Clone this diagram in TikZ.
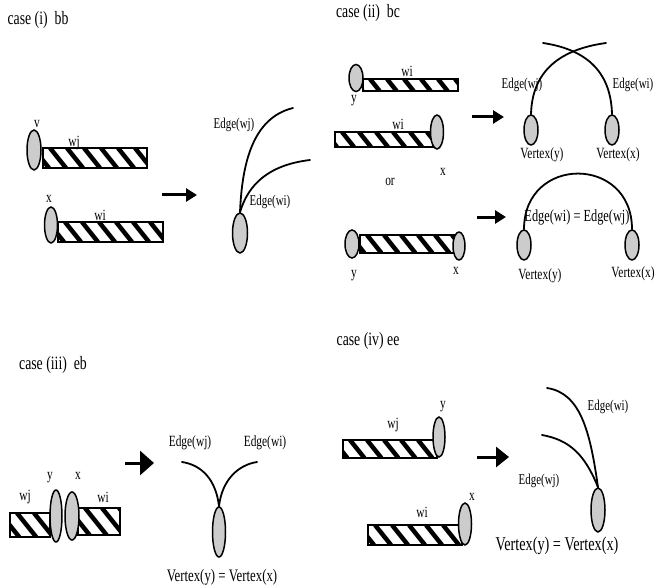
\documentclass[tikz,border=0pt]{standalone}
\usepackage{fontspec}
\setmainfont{Liberation Serif}
\usepackage{graphicx}
\usetikzlibrary{arrows.meta,shapes.geometric}
\newcommand\T[1]{\scalebox{0.95}[1.3]{#1}}
\newcommand\hatchbar[4]{%
  \begin{scope}
    \clip (#1,#2) rectangle (#3,#4);
    \pgfmathsetmacro\hh{#4-#2}
    \pgfmathsetmacro\nn{int((#3-#1)/17)+2}
    \foreach \k in {0,...,\nn}{\draw[stripe] ({#1-10+\k*17},#2) -- ++({0.8*\hh},\hh);}
  \end{scope}
  \draw[barline] (#1,#2) rectangle (#3,#4);}
\tikzset{
  stripe/.style={line width=4.5pt},
  barline/.style={line width=1.6pt},
  vtx/.style={ellipse, draw, line width=1.5pt, fill=black!20, inner sep=0pt},
  lab/.style={font=\fontsize{12}{12}\selectfont, inner sep=0pt},
  small/.style={font=\fontsize{11.5}{11.5}\selectfont, inner sep=0pt},
  ttl/.style={font=\fontsize{14.5}{14.5}\selectfont, inner sep=0pt},
  crv/.style={line width=1.8pt, line cap=round},
  arr/.style={line width=3pt, -{Triangle[length=11pt,width=13pt]}},
  bigarr/.style={line width=3pt, -{Triangle[length=14pt,width=24pt]}}
}
\begin{document}
\begin{tikzpicture}[x=1pt,y=-1pt]
\useasboundingbox (0,0) rectangle (660,585);
% ---------------- case (i)
\node[ttl] (t1) at (38,20) {\T{case (i)\ \ bb}};
\hatchbar{43}{148}{147}{168}
\node[vtx, minimum width=14pt, minimum height=40pt] (v1) at (34,150) {};
\node[lab] (lv1) at (37,124) {\T{v}};
\node[lab] (lwj1) at (74,143) {\T{wj}};
\hatchbar{58}{222}{163}{242}
\node[vtx, minimum width=13pt, minimum height=36pt] (x1) at (51,225) {};
\node[lab] (lx1) at (49,199) {\T{x}};
\node[lab] (lwi1) at (100,215) {\T{wi}};
\coordinate (a1s) at (162,195);
\coordinate (a1e) at (197,195);
\draw[arr] (a1s) -- (a1e);
\node[vtx, minimum width=15pt, minimum height=40pt] (r1) at (240,233) {};
\coordinate (r1wj) at (293,108);
\coordinate (r1wi) at (310,160);
\draw[crv] (r1.north) .. controls (242,165) and (252,118) .. (r1wj);
\draw[crv] (r1.north) .. controls (248,185) and (268,165) .. (r1wi);
\node[small] (le1j) at (234,125) {\T{Edge(wj)}};
\node[small] (le1i) at (270,202) {\T{Edge(wi)}};
% ---------------- case (ii)
\node[ttl] (t2) at (368,13) {\T{case (ii)\ \ bc}};
\hatchbar{363}{79}{458}{91}
\node[vtx, minimum width=14pt, minimum height=27pt] (y2a) at (356,78) {};
\node[lab] (lwi2a) at (407,71) {\T{wi}};
\node[lab] (ly2a) at (354,101) {\T{y}};
\hatchbar{335}{132}{433}{147}
\node[vtx, minimum width=13pt, minimum height=34pt] (x2a) at (437,132) {};
\node[lab] (lwi2b) at (398,124) {\T{wi}};
\node[lab] (lx2a) at (443,172) {\T{x}};
\node[lab] (lor) at (390,182) {\T{or}};
\hatchbar{360}{235}{455}{253}
\node[vtx, minimum width=14pt, minimum height=28pt] (y2b) at (352,244) {};
\node[vtx, minimum width=12pt, minimum height=28pt] (x2b) at (459,246) {};
\node[lab] (ly2b) at (354,276) {\T{y}};
\node[lab] (lx2b) at (456,271) {\T{x}};
\coordinate (a2s) at (472,117);
\coordinate (a2e) at (504,117);
\draw[arr] (a2s) -- (a2e);
\coordinate (a3s) at (477,217);
\coordinate (a3e) at (506,217);
\draw[arr] (a3s) -- (a3e);
\node[vtx, minimum width=14pt, minimum height=30pt] (ry2) at (531,130) {};
\node[vtx, minimum width=14pt, minimum height=30pt] (rx2) at (612,130) {};
\coordinate (c2a) at (606,43);
\coordinate (c2b) at (543,43);
\draw[crv] (ry2.north) .. controls (532,75) and (555,50) .. (c2a);
\draw[crv] (rx2.north) .. controls (611,75) and (590,50) .. (c2b);
\node[small] (le2j) at (522,85) {\T{Edge(wj)}};
\node[small] (le2i) at (633,85) {\T{Edge(wi)}};
\node[lab] (lvy2) at (542,155) {\T{Vertex(y)}};
\node[lab] (lvx2) at (618,155) {\T{Vertex(x)}};
\node[vtx, minimum width=14pt, minimum height=30pt] (ry3) at (524,245) {};
\node[vtx, minimum width=14pt, minimum height=30pt] (rx3) at (632,245) {};
\draw[crv] (ry3.north) .. controls (524,155) and (632,155) .. (rx3.north);
\node[font=\fontsize{13}{13}\selectfont, inner sep=0pt] (le3) at (577,217) {\T{Edge(wi) = Edge(wj)}};
\node[lab] (lvy3) at (540,276) {\T{Vertex(y)}};
\node[lab] (lvx3) at (633,274) {\T{Vertex(x)}};
% ---------------- case (iii)
\node[ttl] (t3) at (53,365) {\T{case (iii)\ \ eb}};
\hatchbar{10}{513}{50}{537}
\hatchbar{78}{508}{120}{535}
\node[vtx, minimum width=12pt, minimum height=52pt] (y4) at (56,516) {};
\node[vtx, minimum width=14pt, minimum height=48pt] (x4) at (72,516) {};
\node[lab] (ly4) at (50,478) {\T{y}};
\node[lab] (lx4) at (78,476) {\T{x}};
\node[lab] (lwj4) at (25,497) {\T{wj}};
\node[lab] (lwi4) at (103,497) {\T{wi}};
\coordinate (a4s) at (125,463);
\coordinate (a4e) at (154,463);
\draw[bigarr] (a4s) -- (a4e);
\node[vtx, minimum width=13pt, minimum height=50pt] (r4) at (219,532) {};
\coordinate (c4a) at (182,462);
\coordinate (c4b) at (257,462);
\draw[crv] (r4.north) .. controls (216,480) and (202,465) .. (c4a);
\draw[crv] (r4.north) .. controls (222,480) and (238,465) .. (c4b);
\node[lab] (le4j) at (190,443) {\T{Edge(wj)}};
\node[lab] (le4i) at (265,443) {\T{Edge(wi)}};
\node[font=\fontsize{13.5}{13.5}\selectfont, inner sep=0pt] (lv4) at (222,577) {\T{Vertex(y) = Vertex(x)}};
% ---------------- case (iv)
\node[ttl] (t5) at (368,341) {\T{case (iv)\ ee}};
\hatchbar{343}{440}{437}{458}
\node[vtx, minimum width=12pt, minimum height=40pt] (y5) at (439,437) {};
\node[lab] (lwj5) at (393,425) {\T{wj}};
\node[lab] (ly5) at (443,407) {\T{y}};
\hatchbar{368}{525}{462}{545}
\node[vtx, minimum width=13pt, minimum height=42pt] (x5) at (465,524) {};
\node[lab] (lwi5) at (422,512) {\T{wi}};
\node[lab] (lx5) at (472,497) {\T{x}};
\coordinate (a5s) at (477,457);
\coordinate (a5e) at (509,457);
\draw[line width=3pt, -{Triangle[length=13pt,width=20pt]}] (a5s) -- (a5e);
\node[vtx, minimum width=14pt, minimum height=44pt] (r5) at (598,510) {};
\coordinate (c5a) at (547,388);
\coordinate (c5b) at (542,435);
\draw[crv] (r5.north) .. controls (590,430) and (580,393) .. (c5a);
\draw[crv] (r5.north) .. controls (585,455) and (570,440) .. (c5b);
\node[small] (le5i) at (608,407) {\T{Edge(wi)}};
\node[small] (le5j) at (539,481) {\T{Edge(wj)}};
\node[font=\fontsize{15}{15}\selectfont, inner sep=0pt] (lv5) at (557,546) {\T{Vertex(y) = Vertex(x)}};
\end{tikzpicture}
\end{document}
